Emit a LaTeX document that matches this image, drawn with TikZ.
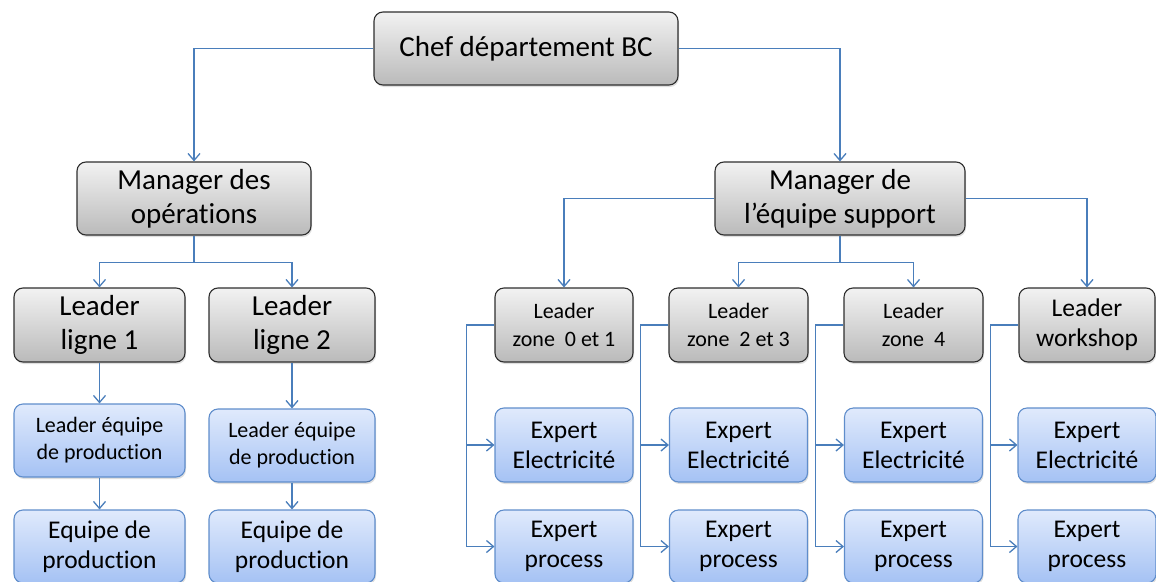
\documentclass[tikz,border=0pt]{standalone}
\usepackage{fontspec}
\setmainfont{Carlito}[Ligatures={NoCommon,NoContextual}]
\usetikzlibrary{arrows.meta,shadows}
\definecolor{linkblue}{HTML}{4A7EBB}
\definecolor{grayTop}{HTML}{F2F2F2}
\definecolor{grayBot}{HTML}{BABABA}
\definecolor{grayEdge}{HTML}{2E2E2E}
\definecolor{blueTop}{HTML}{E0EAFC}
\definecolor{blueBot}{HTML}{A5C2F4}
\definecolor{blueEdge}{HTML}{5F8DCB}
\tikzset{
  box/.style={rounded corners=9pt, align=center, inner sep=0pt, line width=1.1pt,
    drop shadow={opacity=0.25, shadow xshift=1pt, shadow yshift=-2pt}},
  graybox/.style={box, draw=grayEdge, top color=grayTop, bottom color=grayBot},
  bluebox/.style={box, draw=blueEdge, top color=blueTop, bottom color=blueBot},
  big/.style={font=\fontsize{29}{34}\selectfont},
  mid/.style={font=\fontsize{25.5}{30}\selectfont},
  small/.style={font=\fontsize{22}{28}\selectfont},
  tiny/.style={font=\fontsize{22}{27}\selectfont},
  link/.style={draw=linkblue, line width=1.4pt},
  arr/.style={link, -{Straight Barb[length=7pt,width=12pt,line width=1.3pt]}}
}
\begin{document}
\begin{tikzpicture}[x=1pt,y=-1pt]
\useasboundingbox (0,0) rectangle (1156,581);
\clip (0,0) rectangle (1156,581);

% top level
\node[graybox, big, minimum width=304pt, minimum height=73pt] (chef) at (526,48.5) {Chef département BC};

% managers
\node[graybox, big, minimum width=234pt, minimum height=73pt] (mops) at (194,198.5) {Manager des\\opérations};
\node[graybox, big, minimum width=250pt, minimum height=73pt] (msup) at (840,198.5) {Manager de\\l’équipe support};

% production branch
\node[graybox, big, minimum width=171pt, minimum height=74pt] (ll1) at (99.5,325) {Leader\\ligne 1};
\node[graybox, big, minimum width=166pt, minimum height=74pt] (ll2) at (292,325) {Leader\\ligne 2};
\node[bluebox, tiny, minimum width=171pt, minimum height=73pt] (lep1) at (99.5,440.5) {Leader équipe\\de production};
\node[bluebox, tiny, minimum width=166pt, minimum height=73pt] (lep2) at (292,445.5) {Leader équipe\\de production};
\node[bluebox, mid, minimum width=171pt, minimum height=73pt] (ep1) at (99.5,546.5) {Equipe de\\production};
\node[bluebox, mid, minimum width=166pt, minimum height=73pt] (ep2) at (292,546.5) {Equipe de\\production};

% support branch
\node[graybox, small, minimum width=138pt, minimum height=74pt] (lz1) at (564,325) {Leader\\zone~ 0 et 1};
\node[graybox, small, minimum width=139pt, minimum height=74pt] (lz2) at (738.5,325) {Leader\\zone~ 2 et 3};
\node[graybox, small, minimum width=139pt, minimum height=74pt] (lz3) at (913.5,325) {Leader\\zone~ 4};
\node[graybox, mid, minimum width=136pt, minimum height=74pt] (lz4) at (1087,325) {Leader\\workshop};

\foreach \n/\cx in {1/564,2/738.5,3/913.5,4/1087}{
  \node[bluebox, mid, minimum width=138pt, minimum height=74pt] (ee\n) at (\cx,445) {Expert\\Electricité};
  \node[bluebox, mid, minimum width=138pt, minimum height=73pt] (ex\n) at (\cx,546.5) {Expert\\process};
}

% connectors
\draw[arr] (chef.west) -| (mops.north);
\draw[arr] (chef.east) -| (msup.north);

\draw[arr] (mops.south) -- ++(0,27) -| (ll1.north);
\draw[arr] (mops.south) -- ++(0,27) -| (ll2.north);
\draw[arr] (ll1.south) -- (lep1.north);
\draw[arr] (lep1.south) -- (ep1.north);
\draw[arr] (ll2.south) -- (lep2.north);
\draw[arr] (lep2.south) -- (ep2.north);

\draw[arr] (msup.west) -| (lz1.north);
\draw[arr] (msup.east) -| (lz4.north);
\draw[arr] (msup.south) -- ++(0,27) -| (lz2.north);
\draw[arr] (msup.south) -- ++(0,27) -| (lz3.north);

\foreach \n in {1,2,3,4}{
  \draw[arr] (lz\n.west) -- ++(-28,0) coordinate (bus\n) |- (ee\n.west);
  \draw[arr] (bus\n) |- (ex\n.west);
}
\end{tikzpicture}
\end{document}
